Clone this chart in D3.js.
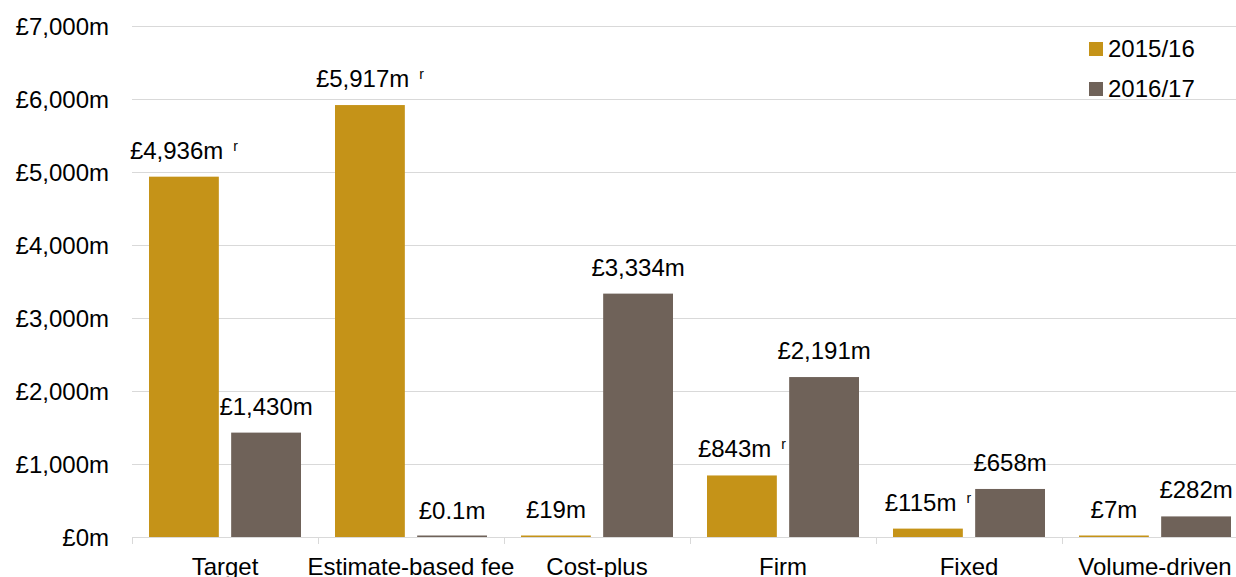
<!DOCTYPE html>
<html>
<head>
<meta charset="utf-8">
<script src="https://cdn.jsdelivr.net/npm/d3@7"></script>
<style>
  html, body { margin: 0; padding: 0; background: #ffffff; }
  svg { display: block; font-family: "Liberation Sans", Arial, sans-serif; }
</style>
</head>
<body>
<svg id="chart" width="1236" height="577"></svg>
<script>
// Contract values by pricing type, £ millions
const categories = ["Target", "Estimate-based fee", "Cost-plus", "Firm", "Fixed", "Volume-driven"];
const seriesNames = ["2015/16", "2016/17"];
const values2015 = [4936, 5917, 19, 843, 115, 7];
const values2016 = [1430, 0.1, 3334, 2191, 658, 282];
const labels2015 = ["£4,936m", "£5,917m", "£19m", "£843m", "£115m", "£7m"];
const labels2016 = ["£1,430m", "£0.1m", "£3,334m", "£2,191m", "£658m", "£282m"];
// revised figures carry an "r" marker
const revised2015 = [true, true, false, true, true, false];
const revised2016 = [false, false, false, false, false, false];
const yTicks = [0, 1000, 2000, 3000, 4000, 5000, 6000, 7000];
const yTickLabels = ["£0m", "£1,000m", "£2,000m", "£3,000m", "£4,000m", "£5,000m", "£6,000m", "£7,000m"];
const colors = ["#C59318", "#6F6259"];

const svg = d3.select("#chart");
const margin = { left: 132, top: 26, bottom: 40 };
const plotRight = 1248;
const plotBottom = 537;

const x0 = d3.scaleBand().domain(categories).range([margin.left, plotRight]).padding(0);
const x1 = d3.scaleBand().domain(seriesNames).range([17, x0.bandwidth() - 17]).paddingInner(0.15).paddingOuter(0);
const y = d3.scaleLinear().domain([0, 7000]).range([plotBottom, margin.top]);

const fontSize = 24;

// horizontal gridlines
svg.append("g")
  .selectAll("line")
  .data(yTicks)
  .join("line")
  .attr("x1", margin.left)
  .attr("x2", plotRight)
  .attr("y1", d => Math.round(y(d)) + 0.5)
  .attr("y2", d => Math.round(y(d)) + 0.5)
  .attr("stroke", "#D9D9D9")
  .attr("stroke-width", 1);

// y axis labels
svg.append("g")
  .selectAll("text")
  .data(yTicks)
  .join("text")
  .attr("x", 109)
  .attr("y", d => y(d))
  .attr("dy", "0.36em")
  .attr("text-anchor", "end")
  .attr("font-size", fontSize)
  .attr("fill", "#000")
  .text((d, i) => yTickLabels[i]);

// category tick marks below the baseline
const tickPositions = categories.map(c => x0(c)).concat([plotRight]);
svg.append("g")
  .selectAll("line")
  .data(tickPositions)
  .join("line")
  .attr("x1", d => Math.round(d) + 0.5)
  .attr("x2", d => Math.round(d) + 0.5)
  .attr("y1", plotBottom)
  .attr("y2", plotBottom + 7)
  .attr("stroke", "#D9D9D9")
  .attr("stroke-width", 1);

// category labels
svg.append("g")
  .selectAll("text")
  .data(categories)
  .join("text")
  .attr("x", d => x0(d) + x0.bandwidth() / 2)
  .attr("y", 575)
  .attr("text-anchor", "middle")
  .attr("font-size", fontSize)
  .attr("fill", "#000")
  .text(d => d);

// bars
const rows = categories.map((c, i) => ({
  category: c,
  items: [
    { series: seriesNames[0], value: values2015[i], label: labels2015[i], revised: revised2015[i], color: colors[0] },
    { series: seriesNames[1], value: values2016[i], label: labels2016[i], revised: revised2016[i], color: colors[1] }
  ]
}));

const groups = svg.append("g")
  .selectAll("g")
  .data(rows)
  .join("g")
  .attr("transform", d => `translate(${x0(d.category)},0)`);

groups.selectAll("rect")
  .data(d => d.items)
  .join("rect")
  .attr("x", d => x1(d.series))
  .attr("width", x1.bandwidth())
  .attr("y", d => Math.min(y(d.value), plotBottom - 1.5))
  .attr("height", d => Math.max(plotBottom - y(d.value), 1.5))
  .attr("fill", d => d.color);

// value labels
const valueText = groups.selectAll("text.value")
  .data(d => d.items)
  .join("text")
  .attr("class", "value")
  .attr("x", d => x1(d.series) + x1.bandwidth() / 2)
  .attr("y", d => y(d.value) - 18)
  .attr("text-anchor", "middle")
  .attr("font-size", fontSize)
  .attr("fill", "#000");

valueText.append("tspan").text(d => d.label);
valueText.filter(d => d.revised)
  .append("tspan")
  .attr("dx", 10)
  .attr("dy", -8)
  .attr("font-size", 14)
  .text("r");

// legend
const legend = svg.append("g")
  .selectAll("g")
  .data(seriesNames)
  .join("g")
  .attr("transform", (d, i) => `translate(1089,${42 + i * 40})`);

legend.append("rect")
  .attr("width", 14)
  .attr("height", 14)
  .attr("fill", (d, i) => colors[i]);

legend.append("text")
  .attr("x", 19)
  .attr("y", 15)
  .attr("font-size", fontSize)
  .attr("fill", "#000")
  .text(d => d);
</script>
</body>
</html>
